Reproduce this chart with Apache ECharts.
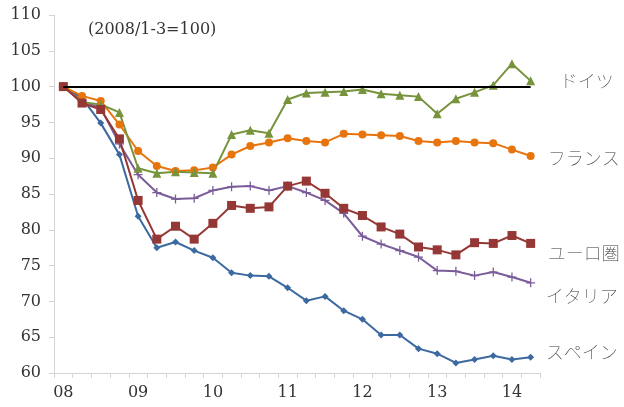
<!DOCTYPE html>
<html>
<head>
<meta charset="utf-8">
<script src="https://cdn.jsdelivr.net/npm/echarts@6/dist/echarts.min.js"></script>
<style>
  html, body { margin: 0; padding: 0; background: #fff; }
  #chart { width: 624px; height: 407px; }
</style>
</head>
<body>
<div id="chart"></div>
<script>
// quarters 2008 Q1 .. 2014 Q2
var quarters = ['2008Q1','2008Q2','2008Q3','2008Q4','2009Q1','2009Q2','2009Q3','2009Q4',
                '2010Q1','2010Q2','2010Q3','2010Q4','2011Q1','2011Q2','2011Q3','2011Q4',
                '2012Q1','2012Q2','2012Q3','2012Q4','2013Q1','2013Q2','2013Q3','2013Q4',
                '2014Q1','2014Q2'];
var yearLabels = ['08','09','10','11','12','13','14'];

var germany = [100, 97.8, 97.5, 96.4, 88.6, 87.9, 88.1, 88.0, 87.9, 93.3, 93.9, 93.5, 98.2,
               99.1, 99.2, 99.3, 99.6, 99.0, 98.8, 98.6, 96.2, 98.3, 99.2, 100.2, 103.2, 100.8];
var france  = [100, 98.7, 98.0, 94.7, 91.0, 88.9, 88.2, 88.3, 88.7, 90.5, 91.7, 92.2, 92.8,
               92.4, 92.2, 93.4, 93.3, 93.2, 93.1, 92.4, 92.2, 92.4, 92.2, 92.1, 91.2, 90.3];
var euro    = [100, 97.7, 96.8, 92.7, 84.1, 78.7, 80.5, 78.7, 80.9, 83.4, 83.0, 83.2, 86.1,
               86.8, 85.1, 83.0, 82.0, 80.4, 79.4, 77.6, 77.2, 76.5, 78.2, 78.1, 79.2, 78.1];
var italy   = [100, 98.0, 97.0, 92.0, 87.7, 85.2, 84.3, 84.4, 85.5, 86.0, 86.1, 85.5, 86.1,
               85.2, 84.1, 82.3, 79.1, 78.0, 77.1, 76.2, 74.3, 74.2, 73.6, 74.1, 73.4, 72.6];
var spain   = [100, 98.4, 94.9, 90.5, 81.9, 77.5, 78.3, 77.1, 76.1, 74.0, 73.6, 73.5, 71.9,
               70.1, 70.7, 68.7, 67.5, 65.3, 65.3, 63.4, 62.7, 61.4, 61.9, 62.4, 61.9, 62.2];

var serif = 'DejaVu Serif';
var jp = 'Noto Sans CJK JP';
var axisGray = '#d4d4d4';
var plusPath = 'path://M4.3,0H5.7V4.3H10V5.7H5.7V10H4.3V5.7H0V4.3H4.3Z';

function makeSeries(name, data, color, symbol, size, offset) {
  return {
    name: name,
    type: 'line',
    data: data,
    symbol: symbol,
    symbolSize: size,
    lineStyle: { color: color, width: 2 },
    itemStyle: { color: color },
    endLabel: {
      show: true,
      formatter: name,
      offset: offset,
      fontFamily: jp,
      fontSize: 18,
      fontWeight: 'lighter',
      color: '#333'
    }
  };
}

var chart = echarts.init(document.getElementById('chart'));
var option = {
  animation: false,
  title: {
    text: '(2008/1-3=100)',
    left: 83,
    top: 17,
    textStyle: { fontFamily: serif, fontSize: 16, fontWeight: 'normal', color: '#333' }
  },
  grid: { left: 54, right: 84, top: 15, bottom: 34 },
  xAxis: {
    type: 'category',
    data: quarters,
    boundaryGap: true,
    axisLine: { lineStyle: { color: axisGray, width: 1 } },
    axisTick: { show: true, interval: 0, length: 5, lineStyle: { color: axisGray } },
    axisLabel: {
      interval: 3,
      margin: 12,
      fontFamily: serif,
      fontSize: 16,
      color: '#333',
      formatter: function (v, i) { return yearLabels[i / 4]; }
    },
    splitLine: { show: false }
  },
  yAxis: {
    type: 'value',
    min: 60,
    max: 110,
    interval: 5,
    axisLine: { show: true, lineStyle: { color: axisGray, width: 1 } },
    axisTick: { show: true, length: 5, lineStyle: { color: axisGray } },
    axisLabel: { margin: 13, fontFamily: serif, fontSize: 16, color: '#333' },
    splitLine: { show: false }
  },
  series: [
    makeSeries('スペイン', spain, '#3b69a0', 'diamond', 7, [7, -5]),
    makeSeries('イタリア', italy, '#7a5c99', plusPath, 9, [7, 13]),
    makeSeries('フランス', france, '#e8740e', 'circle', 8, [9, 2]),
    makeSeries('ドイツ', germany, '#77933c', 'triangle', 9, [21, 0]),
    makeSeries('ユーロ圏', euro, '#953735', 'rect', 9, [9, 10])
  ]
};
// black reference line at 100
option.series[0].markLine = {
  silent: true,
  symbol: 'none',
  label: { show: false },
  lineStyle: { color: '#000', width: 2, type: 'solid' },
  data: [[{ coord: [quarters[0], 100] }, { coord: [quarters[quarters.length - 1], 100] }]]
};
chart.setOption(option);
</script>
</body>
</html>
